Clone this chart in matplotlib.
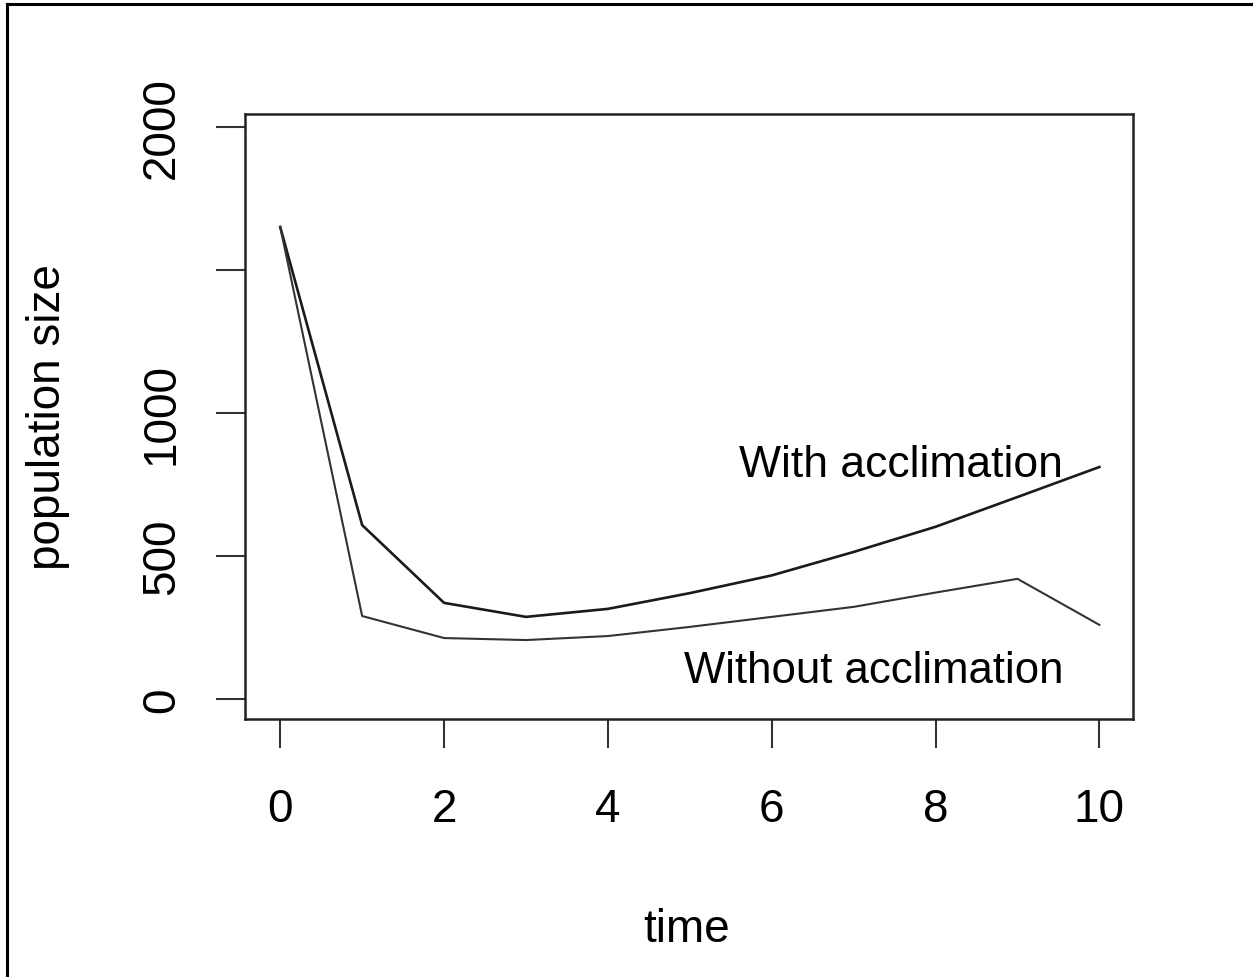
import matplotlib
matplotlib.use("Agg")
import matplotlib.pyplot as plt
from matplotlib.lines import Line2D

plt.rcParams['font.family'] = ['Liberation Sans', 'DejaVu Sans']

time = [0, 1, 2, 3, 4, 5, 6, 7, 8, 9, 10]
with_accl = [1650, 608, 336, 287, 315, 370, 432, 514, 602, 706, 811]
without_accl = [1650, 290, 213, 206, 220, 252, 287, 322, 372, 420, 259]

x_ticks = [0, 2, 4, 6, 8, 10]
y_ticks = [0, 500, 1000, 1500, 2000]
# R drops the 1500 label because it would overlap its neighbours
y_tick_labels = ["0", "500", "1000", "", "2000"]

W, H = 1253, 978
fig = plt.figure(figsize=(W / 100, H / 100), dpi=100)
ax = fig.add_axes([245 / W, 1 - 720 / H, (1133 - 245) / W, (720 - 115) / H])

ax.plot(time, with_accl, color="#1a1a1a", lw=1.9)
ax.plot(time, without_accl, color="#333333", lw=1.5)

ax.set_xlim(-0.43, 10.41)
ax.set_ylim(-70, 2045)
ax.set_xticks(x_ticks)
ax.set_yticks(y_ticks)
ax.set_yticklabels(y_tick_labels)

for s in ax.spines.values():
    s.set_linewidth(1.8)
    s.set_color("#222222")
ax.tick_params(axis="both", length=21, width=1.5, color="#333333",
               labelsize=33, direction="out")
ax.tick_params(axis="x", pad=28)
ax.tick_params(axis="y", pad=23, labelrotation=90)
for lab in ax.get_yticklabels():
    lab.set_va("center")

ax.text(9.56, 780, "With acclimation", ha="right", va="baseline", fontsize=32)
ax.text(9.56, 59, "Without acclimation", ha="right", va="baseline", fontsize=31.5)

fig.text(687 / W, 1 - 942 / H, "time", ha="center", va="baseline", fontsize=33)
fig.text(60 / W, 1 - 417 / H, "population size", rotation=90,
         rotation_mode="anchor", ha="center", va="baseline", fontsize=33)

# outer frame (left and top edges visible)
fig.add_artist(Line2D([7 / W, 7 / W], [0, 1 - 5 / H], transform=fig.transFigure,
                      color="black", lw=2.2))
fig.add_artist(Line2D([7 / W, 1], [1 - 5 / H, 1 - 5 / H], transform=fig.transFigure,
                      color="black", lw=2.2))

fig.savefig("out.png", dpi=100)
